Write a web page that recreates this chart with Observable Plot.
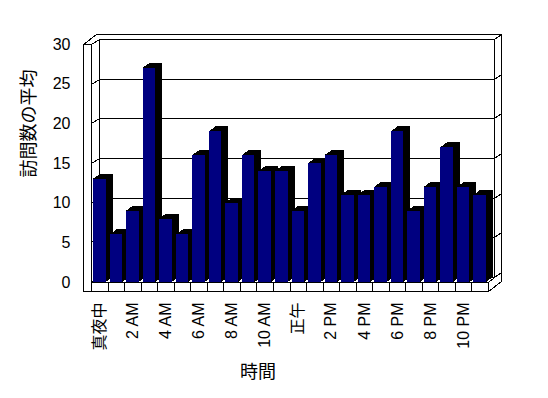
<!DOCTYPE html>
<html>
<head>
<meta charset="utf-8">
<script src="https://cdn.jsdelivr.net/npm/d3@7"></script>
<script src="https://cdn.jsdelivr.net/npm/@observablehq/plot@0.6"></script>
<style>
  html, body { margin: 0; padding: 0; background: white; }
</style>
</head>
<body>
<div id="chart"></div>
<script>
const hours = ["真夜中","1 AM","2 AM","3 AM","4 AM","5 AM","6 AM","7 AM","8 AM","9 AM","10 AM","11 AM",
               "正午","1 PM","2 PM","3 PM","4 PM","5 PM","6 PM","7 PM","8 PM","9 PM","10 PM","11 PM"];
const visits = [13, 6, 9, 27, 8, 6, 16, 19, 10, 16, 14, 14, 9, 15, 16, 11, 11, 12, 19, 9, 12, 17, 12, 11];
const xTickLabels = ["真夜中","2 AM","4 AM","6 AM","8 AM","10 AM","正午","2 PM","4 PM","6 PM","8 PM","10 PM"];
const yTicks = [0, 5, 10, 15, 20, 25, 30];
const yTitle = "訪問数の平均";
const xTitle = "時間";

const data = hours.map((h, i) => ({hour: h, visits: visits[i]}));

// styling constants (pixels)
const WALL_T = 8, FLOOR_T = 9;
const IN_DXL = 8, IN_DXR = 5.5, IN_DY = -5;
const OUT_DX = 12.5, OUT_DY = -10;
const BAR_DX = 7, BAR_DY = -5, INSET = 2;
const c = v => Math.round(v) + 0.5;

function box(index, scales) {
  const x = scales.x, y = scales.y;
  const bw = x.bandwidth();
  const X0 = x(hours[0]), X1 = x(hours[hours.length - 1]) + bw;
  const Yb = y(0), Yt = y(yTicks[yTicks.length - 1]);
  const g = d3.create("svg:g").attr("fill", "none").attr("stroke", "black")
    .attr("stroke-width", 1).attr("shape-rendering", "crispEdges");
  const line = (a, b, p, q) => g.append("path").attr("d", `M${c(a)},${c(b)}L${c(p)},${c(q)}`);
  g.append("path").attr("fill", "white").attr("d",
    `M${c(X0 - WALL_T)},${c(Yt)}L${c(X0 - WALL_T + OUT_DX)},${c(Yt + OUT_DY)}` +
    `L${c(X1 + OUT_DX)},${c(Yt + OUT_DY)}L${c(X1 + OUT_DX)},${c(Yb + FLOOR_T + OUT_DY)}` +
    `L${c(X1)},${c(Yb + FLOOR_T)}L${c(X0 - WALL_T)},${c(Yb + FLOOR_T)}Z`);
  line(X0 - WALL_T, Yt, X0, Yt);
  line(X0, Yt, X0, Yb + FLOOR_T);
  line(X0, Yt, X0 + IN_DXL, Yt + IN_DY);
  g.append("path").attr("d",
    `M${c(X0 + IN_DXL)},${c(Yt + IN_DY)}L${c(X1 + IN_DXR)},${c(Yt + IN_DY)}` +
    `L${c(X1 + IN_DXR)},${c(Yb + IN_DY)}L${c(X0 + IN_DXL)},${c(Yb + IN_DY)}Z`);
  line(X1 + IN_DXR, Yt + IN_DY, X1 + OUT_DX, Yt + OUT_DY);
  for (const v of yTicks.slice(0, -1)) {
    if (v > 0) line(X0 + IN_DXL, y(v) + IN_DY, X1 + IN_DXR, y(v) + IN_DY);
    line(X0, y(v), X0 + IN_DXL, y(v) + IN_DY);
    line(X1 + IN_DXR, y(v) + IN_DY, X1 + OUT_DX, y(v) + OUT_DY);
  }
  line(X1, Yb, X1 + IN_DXR, Yb + IN_DY);
  line(X1, Yb, X1, Yb + FLOOR_T);
  return g.node();
}

function floorStrip(index, scales) {
  const x = scales.x, y = scales.y;
  const bw = x.bandwidth();
  const X0 = x(hours[0]), X1 = x(hours[hours.length - 1]) + bw;
  const Yb = y(0);
  const g = d3.create("svg:g").attr("fill", "none").attr("stroke", "black")
    .attr("stroke-width", 1).attr("shape-rendering", "crispEdges");
  g.append("path").attr("d", `M${c(X0)},${c(Yb)}L${c(X1)},${c(Yb)}`);
  for (const h of hours) {
    const xx = x(h) + bw;
    g.append("path").attr("d", `M${c(xx)},${c(Yb)}L${c(xx)},${c(Yb + FLOOR_T)}`);
  }
  return g.node();
}

function barDepth(index, scales) {
  const x = scales.x, y = scales.y;
  const bw = x.bandwidth();
  const g = d3.create("svg:g").attr("fill", "black").attr("shape-rendering", "crispEdges");
  hours.forEach((h, i) => {
    const x0 = x(h) + INSET, x1 = x(h) + bw - INSET;
    const yt = y(visits[i]), yb = y(0);
    g.append("path").attr("d",
      `M${x0},${yt}L${x0 + BAR_DX},${yt + BAR_DY}L${x1 + BAR_DX},${yt + BAR_DY}` +
      `L${x1 + BAR_DX},${yb + BAR_DY}L${x1},${yb}L${x1},${yt}Z`);
  });
  return g.node();
}

const chart = Plot.plot({
  width: 548,
  height: 398,
  marginLeft: 91,
  marginRight: 60,
  marginTop: 44,
  marginBottom: 116,
  style: {fontFamily: "'Liberation Sans', 'Noto Sans CJK JP', sans-serif", fontSize: "16px", background: "white", color: "black"},
  x: {domain: hours, padding: 0, round: false, axis: null},
  y: {domain: [0, 30], axis: null},
  marks: [
    box,
    barDepth,
    Plot.barY(data, {x: "hour", y: "visits", fill: "#000080", insetLeft: INSET, insetRight: INSET, shapeRendering: "crispEdges"}),
    floorStrip,
    Plot.axisY({ticks: yTicks, tickSize: 0, tickPadding: 21, fontSize: 16, label: null}),
    Plot.axisX({ticks: xTickLabels, tickRotate: -90, tickSize: 0, tickPadding: 20, fontSize: 16, label: null}),
    Plot.text([yTitle], {text: d => d, frameAnchor: "left", rotate: -90, dx: -62, dy: 14, fontSize: 18}),
    Plot.text([xTitle], {text: d => d, frameAnchor: "bottom", dx: -32, dy: 95, fontSize: 18})
  ]
});
document.getElementById("chart").appendChild(chart);
</script>
</body>
</html>
